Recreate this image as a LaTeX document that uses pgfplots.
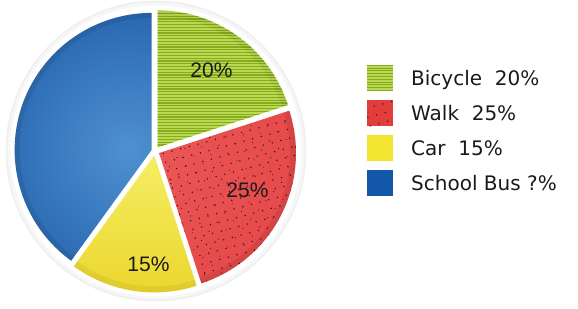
\documentclass[border=0pt]{standalone}
\usepackage{pgfplots}
\pgfplotsset{compat=1.18}
\usepackage{pgfplotstable}
\usetikzlibrary{patterns.meta}
\usepackage{fontspec}
\newfontfamily\legfont{DejaVu Sans}
\newfontfamily\piefont{Liberation Sans}

\definecolor{busdark}{HTML}{0A4796}
\definecolor{buslight}{HTML}{4F90D0}
\definecolor{bicbase}{HTML}{BBD852}
\definecolor{bicline}{HTML}{84AC1C}
\definecolor{walkbase}{HTML}{E23C3C}
\definecolor{walklight}{HTML}{EA5656}
\definecolor{walkdot}{HTML}{3A1212}
\definecolor{cartop}{HTML}{F5EE66}
\definecolor{carbot}{HTML}{EBD62C}
\definecolor{carleg}{HTML}{F2E632}
\definecolor{busleg}{HTML}{1257A8}
\definecolor{txt}{HTML}{1A1A1A}

\pgfplotstableread{
label value explode
Bicycle 20 4.5
Walk 25 4.5
Car 15 4.5
Bus 40 3.5
}\piedata

\def\curangle{90}
\newcommand\getslice[2]{%
 \pgfplotstablegetelem{#1}{value}\of\piedata
 \pgfmathsetmacro\slval{\pgfplotsretval}%
 \pgfplotstablegetelem{#1}{explode}\of\piedata
 \pgfmathsetmacro\slex{\pgfplotsretval}%
 \pgfmathsetmacro\sla{\curangle}%
 \pgfmathsetmacro\slb{\curangle-3.6*\slval}%
 \pgfmathsetmacro\slm{(\sla+\slb)/2}%
 \pgfmathsetmacro\slx{155+\slex*cos(\slm)}%
 \pgfmathsetmacro\sly{158+\slex*sin(\slm)}%
 \expandafter\xdef\csname #2a\endcsname{\sla}%
 \expandafter\xdef\csname #2b\endcsname{\slb}%
 \expandafter\xdef\csname #2x\endcsname{\slx}%
 \expandafter\xdef\csname #2y\endcsname{\sly}%
 \xdef\curangle{\slb}%
}
\getslice{0}{bic}\getslice{1}{wal}\getslice{2}{car}\getslice{3}{bus}
\def\R{137bp}

\begin{document}
\begin{tikzpicture}
\begin{axis}[scale only axis, width=578bp, height=309bp,
  xmin=0, xmax=578, ymin=0, ymax=309, hide axis, clip=false]
% soft outer ring
\fill[black!6] (156,158) circle[radius=150.5bp];
\fill[black!3] (156,158) circle[radius=148.5bp];
\fill[white] (156,158) circle[radius=145.5bp];
% Bus
\begin{scope}
\clip (\busx,\busy) -- ++(\busa:\R) arc[start angle=\busa, end angle=\busb, radius=\R] -- cycle;
\shade[inner color=buslight, outer color=busdark] (128,160) circle[radius=250bp];
\draw[black, opacity=0.08, line width=10bp] (\busx,\busy) circle[radius=\R];
\end{scope}
% Bicycle
\begin{scope}
\clip (\bicx,\bicy) -- ++(\bica:\R) arc[start angle=\bica, end angle=\bicb, radius=\R] -- cycle;
\fill[bicbase] (\bicx,\bicy) circle[radius=150bp];
\pgfplotsinvokeforeach{0,...,52}{\draw[bicline, line width=1.1bp] (150,{150+2.8*#1}) -- (310,{150+2.8*#1});}
\draw[black, opacity=0.06, line width=12bp] (\bicx,\bicy) circle[radius=\R];
\end{scope}
% Walk
\begin{scope}
\clip (\walx,\waly) -- ++(\wala:\R) arc[start angle=\wala, end angle=\walb, radius=\R] -- cycle;
\shade[inner color=walklight, outer color=walkbase] (\walx,\waly) circle[radius=300bp];
\fill[pattern={Dots[distance=9bp, radius=0.8bp, angle=15]}, pattern color=walkdot] (\walx,\waly) circle[radius=150bp];
\fill[pattern={Dots[distance=12bp, radius=0.6bp, angle=50, xshift=3bp]}, pattern color=walkdot] (\walx,\waly) circle[radius=150bp];
\draw[black, opacity=0.07, line width=12bp] (\walx,\waly) circle[radius=\R];
\end{scope}
% Car
\begin{scope}
\clip (\carx,\cary) -- ++(\cara:\R) arc[start angle=\cara, end angle=\carb, radius=\R] -- cycle;
\shade[top color=cartop, bottom color=carbot] (\carx-140,\cary-140) rectangle (\carx+60,\cary+5);
\draw[black, opacity=0.05, line width=12bp] (\carx,\cary) circle[radius=\R];
\end{scope}
% slice labels
\node[anchor=base, inner sep=0, text=txt, font=\piefont\fontsize{21bp}{25bp}\selectfont] at (211.5,231) {20\%};
\node[anchor=base, inner sep=0, text=txt, font=\piefont\fontsize{21bp}{25bp}\selectfont] at (247.5,111) {25\%};
\node[anchor=base, inner sep=0, text=txt, font=\piefont\fontsize{21bp}{25bp}\selectfont] at (148.5,37) {15\%};
% legend
\begin{scope}
\clip (367,217.5) rectangle (393,243.5);
\fill[bicbase] (367,217.5) rectangle (393,243.5);
\pgfplotsinvokeforeach{0,...,9}{\draw[bicline, line width=1.1bp] (367,{218.5+2.8*#1}) -- (393,{218.5+2.8*#1});}
\end{scope}
\fill[walkbase] (367,182.5) rectangle (393,208.5);
\fill[pattern={Dots[distance=9bp, radius=0.8bp, angle=15]}, pattern color=walkdot] (367,182.5) rectangle (393,208.5);
\fill[carleg] (367,147.5) rectangle (393,173.5);
\fill[busleg] (367,112.5) rectangle (393,138.5);
\node[anchor=base west, inner sep=0, text=txt, font=\legfont\fontsize{20bp}{24bp}\selectfont] at (411,223) {Bicycle\ \ 20\%};
\node[anchor=base west, inner sep=0, text=txt, font=\legfont\fontsize{20bp}{24bp}\selectfont] at (411,188) {Walk\ \ 25\%};
\node[anchor=base west, inner sep=0, text=txt, font=\legfont\fontsize{20bp}{24bp}\selectfont] at (411,153) {Car\ \ 15\%};
\node[anchor=base west, inner sep=0, text=txt, font=\legfont\fontsize{20bp}{24bp}\selectfont] at (411,118) {School Bus ?\%};
\end{axis}
\pgfresetboundingbox
\path[use as bounding box] (0,0) rectangle (578bp,309bp);
\end{tikzpicture}
\end{document}
